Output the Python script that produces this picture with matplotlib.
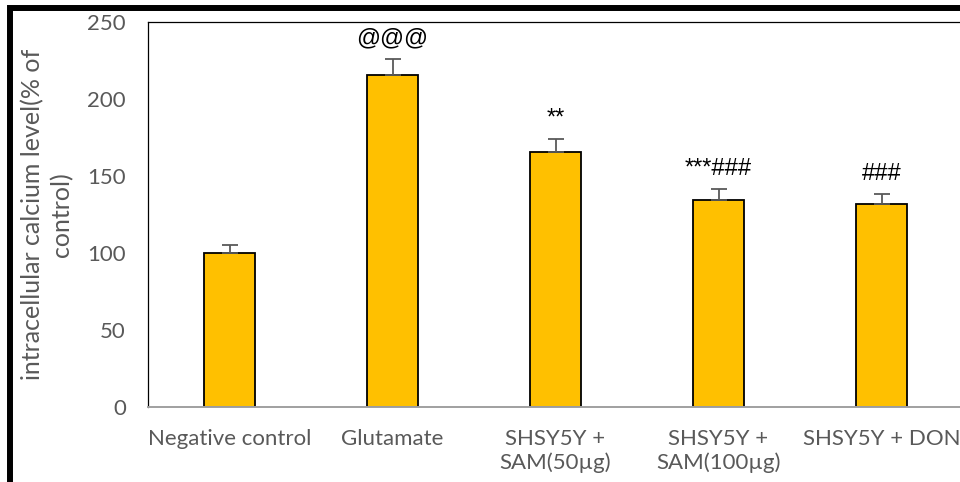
import matplotlib
matplotlib.use("Agg")
import matplotlib.pyplot as plt
from matplotlib.patches import Rectangle

categories = ["Negative control", "Glutamate", "SHSY5Y +\nSAM(50µg)",
              "SHSY5Y +\nSAM(100µg)", "SHSY5Y + DON"]
values = [100, 215.5, 165.5, 134.5, 131.5]
errors = [5, 10.5, 8.5, 7, 6.5]
annotations = ["", "@@@", "**", "***###", "###"]
yticks = [0, 50, 100, 150, 200, 250]

plt.rcParams['font.family'] = ['Lato', 'DejaVu Sans']
GRAY = '#595959'
FS = 16

fig = plt.figure(figsize=(9.6, 4.82), dpi=100)
ax = fig.add_axes([148/960, 75/482, 815/960, 385/482])

x = list(range(len(categories)))
ax.bar(x, values, width=0.31, color='#FFC000', edgecolor='black', linewidth=1.3, zorder=2)
ax.errorbar(x, values, yerr=[[0]*len(errors), errors], fmt='none', ecolor=GRAY,
            elinewidth=1.3, capsize=6, capthick=1.3, zorder=3)

for xi, v, e, a in zip(x, values, errors, annotations):
    if a:
        ax.annotate(a, (xi, v + e), xytext=(0, 10.5), textcoords='offset points',
                    ha='center', va='baseline', fontsize=17, color='black',
                    family=['Liberation Sans', 'DejaVu Sans'])

ax.set_xlim(-0.5, 4.5)
ax.set_ylim(0, 250)
ax.set_yticks(yticks)
ax.set_xticks(x)
ax.set_xticklabels(categories, fontsize=FS, color=GRAY)
ax.tick_params(axis='y', length=0, pad=16, labelsize=FS, labelcolor=GRAY)
ax.tick_params(axis='x', length=0, pad=16)
for s in ['left', 'top', 'right']:
    ax.spines[s].set_color('black')
    ax.spines[s].set_linewidth(0.9)
ax.spines['bottom'].set_color('#A0A0A0')
ax.spines['bottom'].set_linewidth(1.4)

ax.set_ylabel("intracellular calcium level(% of\ncontrol)", fontsize=18, color=GRAY,
              linespacing=1.3)
ax.yaxis.set_label_coords((73 - 148) / 815, 0.5)

# outer thick black frame (cropped on right and bottom)
fig.patches.append(Rectangle((9.5/960, -0.1), 1.2, (482 - 7.5)/482 + 0.1,
                             transform=fig.transFigure, fill=False,
                             edgecolor='black', linewidth=4.3, zorder=10))

fig.savefig("out.png", dpi=100)
